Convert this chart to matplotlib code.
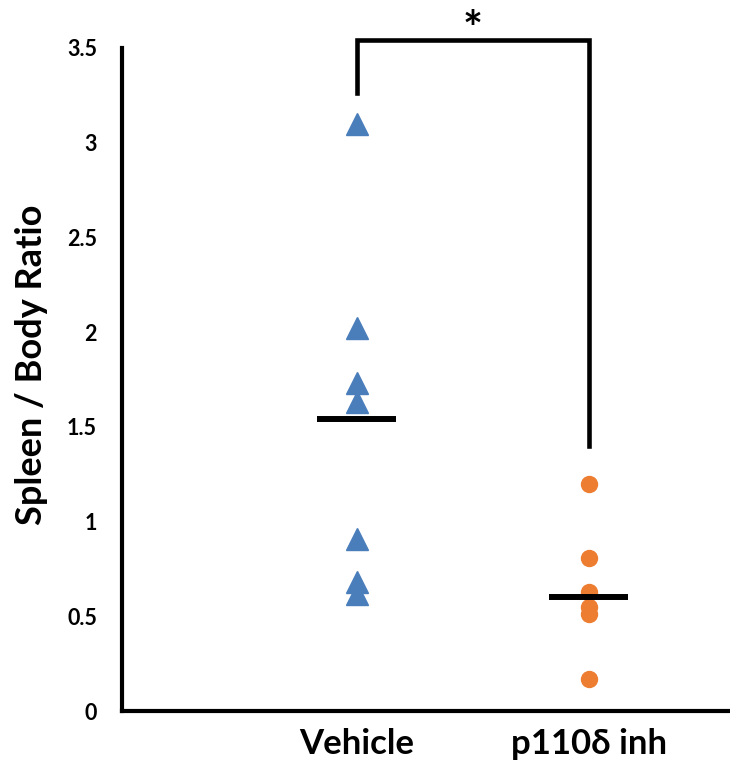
import matplotlib
matplotlib.use("Agg")
import matplotlib.pyplot as plt

categories = ["Vehicle", "p110δ inh"]
vehicle_vals = [3.10, 2.02, 1.73, 1.63, 0.91, 0.68, 0.62]
inh_vals = [1.20, 0.81, 0.63, 0.55, 0.51, 0.17]
means = [1.54, 0.60]
yticks = [0, 0.5, 1, 1.5, 2, 2.5, 3, 3.5]
ytick_labels = ["0", "0.5", "1", "1.5", "2", "2.5", "3", "3.5"]

FONT = ["Lato", "DejaVu Sans"]
plt.rcParams['font.family'] = FONT

fig = plt.figure(figsize=(7.30, 7.66), dpi=100)
ax = fig.add_axes([122/730, 55/766, (730-122)/730, (711-48)/766])

blue = "#4A7EBB"
orange = "#ED7D31"
ax.plot([1]*len(vehicle_vals), vehicle_vals, linestyle="none", marker="^",
        ms=16, color=blue, clip_on=False, zorder=3)
ax.plot([2]*len(inh_vals), inh_vals, linestyle="none", marker="o",
        ms=11.5, color=orange, clip_on=False, zorder=3)

hw = 0.17
for xi, m in zip([1, 2], means):
    ax.plot([xi-hw, xi+hw], [m, m], color="black", lw=4.3, solid_capstyle="butt", zorder=4)

# significance bracket
ax.plot([1, 1, 2, 2], [3.26, 3.54, 3.54, 1.40], color="black", lw=3.3,
        clip_on=False, solid_joinstyle="miter", zorder=4)
ax.text(1.5, 3.59, "*", ha="center", va="center", fontsize=34, fontweight="bold",
        family=FONT)

ax.set_xlim(-0.013, 2.61)
ax.set_ylim(0, 3.5)
ax.set_xticks([1, 2])
ax.set_xticklabels(categories, fontsize=25, fontweight="bold", family=FONT)
ax.set_yticks(yticks)
ax.set_yticklabels(ytick_labels, fontsize=15.5, fontweight="bold", family=FONT)
ax.tick_params(axis="both", length=0)
ax.tick_params(axis="y", pad=18)
ax.tick_params(axis="x", pad=12)
ax.set_ylabel("Spleen / Body Ratio", fontsize=26, fontweight="bold", family=FONT)
ax.yaxis.set_label_coords(-0.122, 0.522)

for s in ["top", "right"]:
    ax.spines[s].set_visible(False)
for s in ["left", "bottom"]:
    ax.spines[s].set_linewidth(3)
    ax.spines[s].set_color("black")
ax.spines["left"].set_capstyle("projecting")

fig.savefig("out.png", dpi=100)
